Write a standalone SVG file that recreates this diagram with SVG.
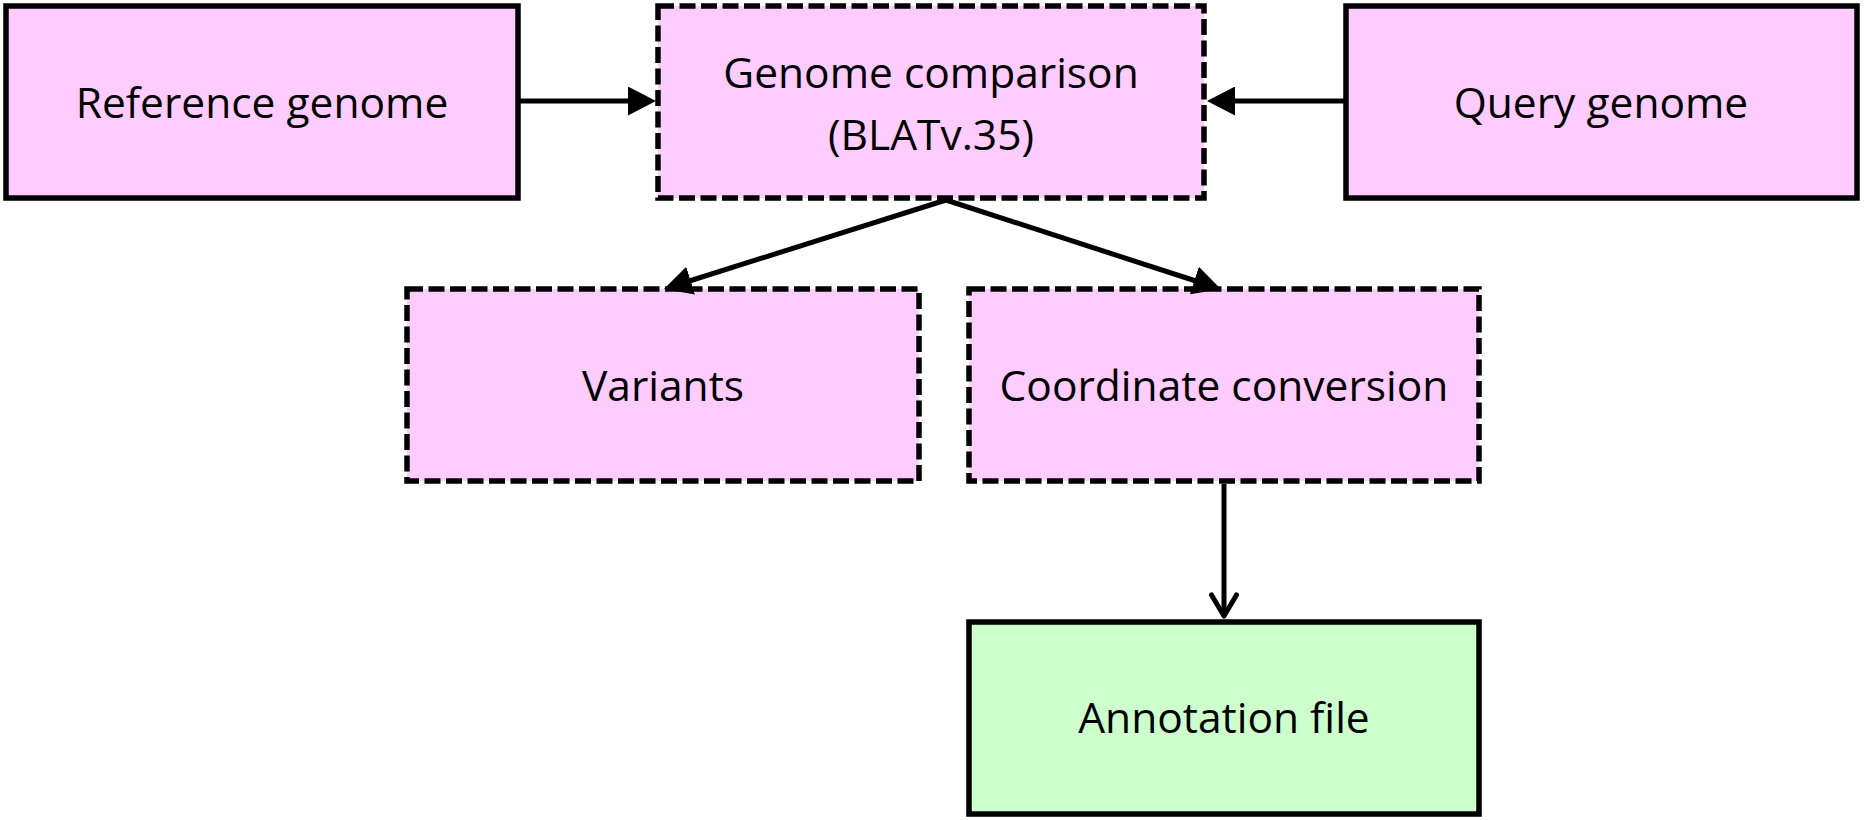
<svg xmlns="http://www.w3.org/2000/svg" width="1864" height="820" viewBox="0 0 1864 820">
  <style>
    .box { fill: #FFCCFF; stroke: #000; stroke-width: 5.5; stroke-linejoin: miter; }
    .dash { stroke-dasharray: 16 5.5; }
    .green { fill: #CCFFCC; }
    .lbl { font-family: "Open Sans", "Liberation Sans", sans-serif; font-size: 42.5px; fill: #000; text-anchor: middle; }
    .conn { stroke: #000; stroke-width: 5; fill: none; }
  </style>
  <defs>
    <marker id="tri" markerUnits="userSpaceOnUse" markerWidth="28" markerHeight="29" refX="8" refY="14.5" orient="auto" viewBox="0 0 28 29">
      <path d="M0,0 L28,14.5 L0,29 Z" fill="#000"/>
    </marker>
  </defs>
  <rect width="1864" height="820" fill="#fff"/>

  <g id="reference-genome">
    <rect class="box" x="6" y="6" width="512" height="192"/>
    <text class="lbl" x="262" y="118">Reference genome</text>
  </g>
  <g id="genome-comparison">
    <rect class="box dash" x="658" y="6" width="546" height="192"/>
    <text class="lbl" x="931" y="88">Genome comparison</text>
    <text class="lbl" x="931" y="150">(BLATv.35)</text>
  </g>
  <g id="query-genome">
    <rect class="box" x="1346" y="6" width="511" height="192"/>
    <text class="lbl" x="1601" y="118">Query genome</text>
  </g>
  <g id="variants">
    <rect class="box dash" x="407" y="289" width="512" height="192"/>
    <text class="lbl" x="663" y="401">Variants</text>
  </g>
  <g id="coordinate-conversion">
    <rect class="box dash" x="969" y="289" width="510" height="192"/>
    <text class="lbl" x="1224" y="401">Coordinate conversion</text>
  </g>
  <g id="annotation-file">
    <rect class="box green" x="969" y="622" width="510" height="192"/>
    <text class="lbl" x="1224" y="733">Annotation file</text>
  </g>

  <g id="connectors">
    <line class="conn" x1="518" y1="101" x2="636" y2="101" marker-end="url(#tri)"/>
    <line class="conn" x1="1346" y1="101" x2="1227" y2="101" marker-end="url(#tri)"/>
    <line class="conn" x1="946" y1="200" x2="683" y2="283" marker-end="url(#tri)"/>
    <line class="conn" x1="946" y1="200" x2="1202" y2="283" marker-end="url(#tri)"/>
    <line class="conn" x1="1224" y1="484" x2="1224" y2="616"/>
    <path class="conn" d="M1211.5,595 L1224,616 L1236.5,595" stroke-linecap="round" stroke-linejoin="round"/>
  </g>
</svg>
